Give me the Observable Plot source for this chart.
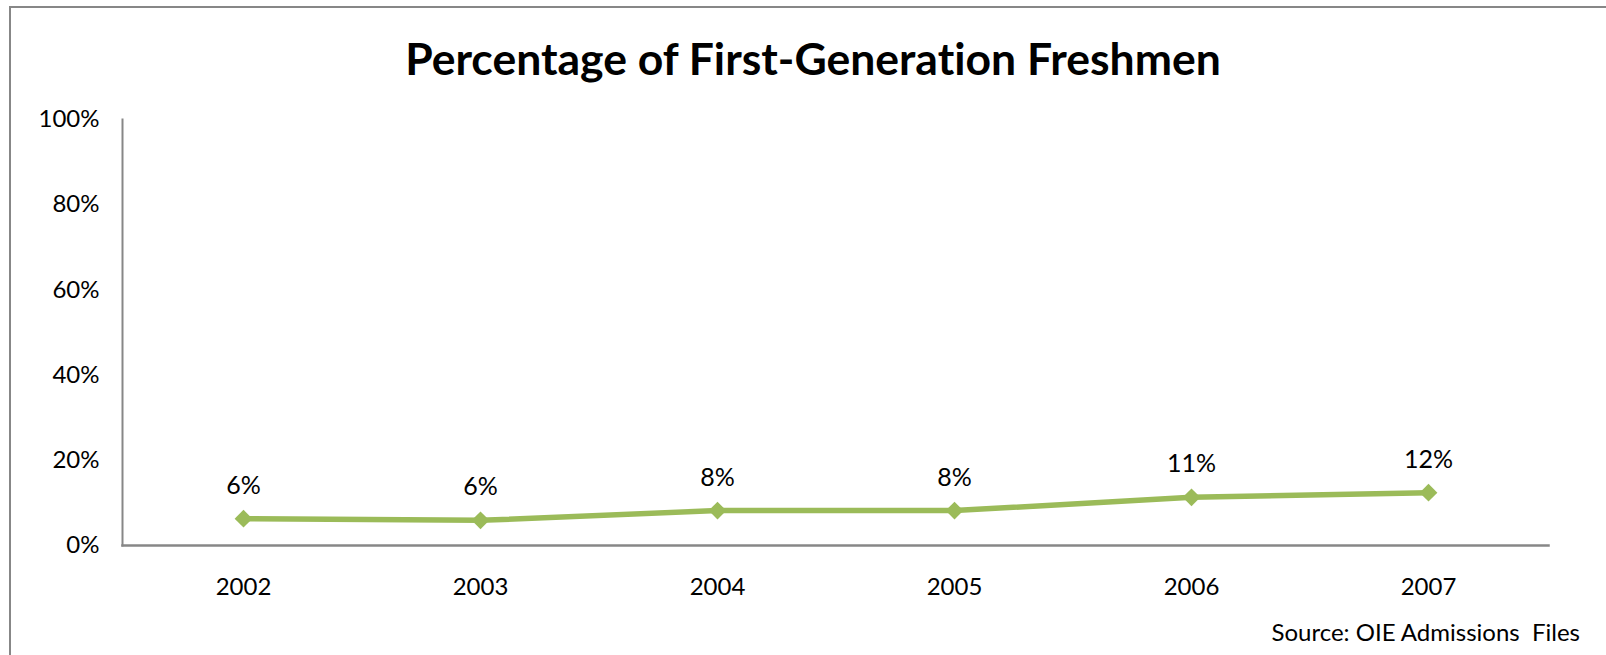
<!DOCTYPE html>
<html>
<head>
<meta charset="utf-8">
<script src="https://cdn.jsdelivr.net/npm/d3@7"></script>
<script src="https://cdn.jsdelivr.net/npm/@observablehq/plot@0.6"></script>
<style>
  html, body { margin: 0; padding: 0; background: #fff; }
  #wrap { position: relative; width: 1606px; height: 655px; overflow: hidden; font-family: Lato, "Open Sans", sans-serif; font-variant-ligatures: none; }
  #border { position: absolute; left: 9px; top: 6px; width: 1620px; height: 700px; border-top: 2px solid #878787; border-left: 2px solid #878787; box-sizing: border-box; }
  #title { position: absolute; left: 0; width: 1626px; top: 36px; text-align: center; font-weight: 700; font-size: 44.5px; color: #000; white-space: nowrap; line-height: 1; font-variant-ligatures: none; }
  #source { position: absolute; right: 26px; top: 620px; font-size: 24px; color: #000; white-space: pre; line-height: 1; }
  #chart { position: absolute; left: 0; top: 0; }
  #chart svg text { font-variant-ligatures: none; }
</style>
</head>
<body>
<div id="wrap">
  <div id="border"></div>
  <div id="chart"></div>
  <div id="title">Percentage of First-Generation Freshmen</div>
  <div id="source">Source: OIE Admissions  Files</div>
</div>
<script>
const years = ["2002", "2003", "2004", "2005", "2006", "2007"];
const shares = [0.063, 0.059, 0.082, 0.082, 0.113, 0.124];
const yTicks = [0, 0.2, 0.4, 0.6, 0.8, 1.0];

const data = years.map((year, i) => ({year, share: shares[i]}));
const green = "#9BBB59";
const axisGray = "#878787";

const chart = Plot.plot({
  width: 1606,
  height: 655,
  marginLeft: 122,
  marginRight: 58,
  marginTop: 119,
  marginBottom: 110,
  style: {fontFamily: "Lato, 'Open Sans', sans-serif", fontSize: "24px", color: "#000", background: "transparent", overflow: "visible"},
  x: {type: "point", domain: years, padding: 0.5, label: null},
  y: {domain: [0, 1], label: null},
  marks: [
    Plot.axisY({ticks: yTicks, tickFormat: d3.format(".0%"), tickSize: 0, tickPadding: 23, label: null, fontSize: 24}),
    Plot.axisX({tickSize: 0, tickPadding: 32, label: null, fontSize: 24}),
    Plot.frame({anchor: "left", stroke: axisGray, strokeWidth: 2, strokeOpacity: 1}),
    Plot.frame({anchor: "bottom", stroke: axisGray, strokeWidth: 2.5, strokeOpacity: 1}),
    Plot.line(data, {x: "year", y: "share", stroke: green, strokeWidth: 5.5}),
    Plot.dot(data, {x: "year", y: "share", symbol: "diamond2", r: 8, fill: green, stroke: "none"}),
    Plot.text(data, {x: "year", y: "share", text: d => d3.format(".0%")(d.share), dy: -33, fontSize: 25, fill: "#000"})
  ]
});
document.getElementById("chart").appendChild(chart);
</script>
</body>
</html>
